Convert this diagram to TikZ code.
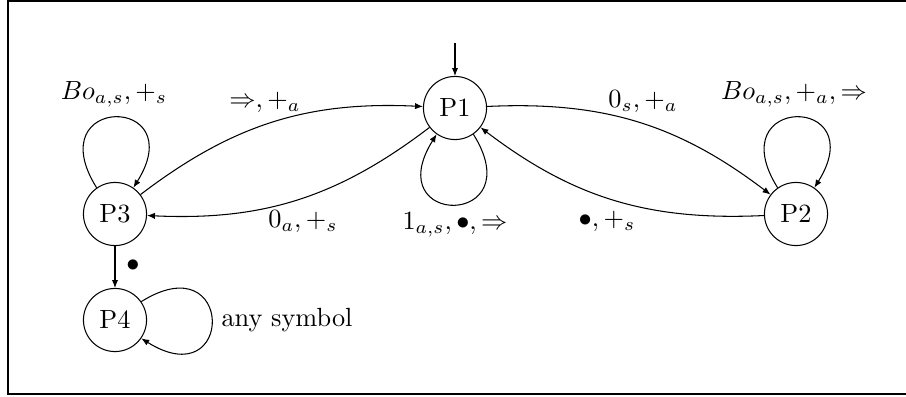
\documentclass[tikz,border=0pt]{standalone}
\usetikzlibrary{arrows.meta}
\begin{document}
\begin{tikzpicture}[x=0.3802pt,y=0.3802pt,
  state/.style={draw,circle,minimum size=24pt,inner sep=0pt,line width=0.4pt},
  arr/.style={-{Latex[length=3pt,width=2.4pt]},line width=0.4pt},
  lbl/.style={inner sep=0pt}]
\useasboundingbox (0,0) rectangle (906,396);
\clip (0,0) rectangle (906,396);
\draw[line width=0.8pt] (8,395) rectangle (915,2);
\node[state] (P1) at (455,288) {P1};
\node[state] (P3) at (115,182) {P3};
\node[state] (P2) at (796,182) {P2};
\node[state] (P4) at (115,76) {P4};
\coordinate (init) at (455,353);
\draw[arr] (init) -- (P1);
\draw[arr] (P3) to[bend left=20] (P1);
\draw[arr] (P1) to[bend left=20] (P3);
\draw[arr] (P1) to[bend left=20] (P2);
\draw[arr] (P2) to[bend left=20] (P1);
\draw[arr] (P3) -- (P4);
\draw[arr] (P1.-55) .. controls +(-58:42pt) and +(-122:42pt) .. (P1.-125);
\draw[arr] (P3.125) .. controls +(122:42pt) and +(58:42pt) .. (P3.55);
\draw[arr] (P2.125) .. controls +(122:42pt) and +(58:42pt) .. (P2.55);
\draw[arr] (P4.35) .. controls +(32:42pt) and +(-32:42pt) .. (P4.-35);
\node[lbl] (l3) at (114,302) {$Bo_{a,s}, +_s$};
\node[lbl] (l31) at (265,294) {$\Rightarrow, +_a$};
\node[lbl] (l13) at (303,174) {$0_a, +_s$};
\node[lbl] (l11) at (455,171) {$1_{a,s}, \bullet, \Rightarrow$};
\node[lbl] (l12) at (643,294) {$0_s, +_a$};
\node[lbl] (l2) at (794,302) {$Bo_{a,s}, +_a, \Rightarrow$};
\node[lbl] (l21) at (607,175) {$\bullet, +_s$};
\node[lbl] (l34) at (133,130) {$\bullet$};
\node[lbl] (l4) at (287,76) {any symbol};
\end{tikzpicture}
\end{document}
